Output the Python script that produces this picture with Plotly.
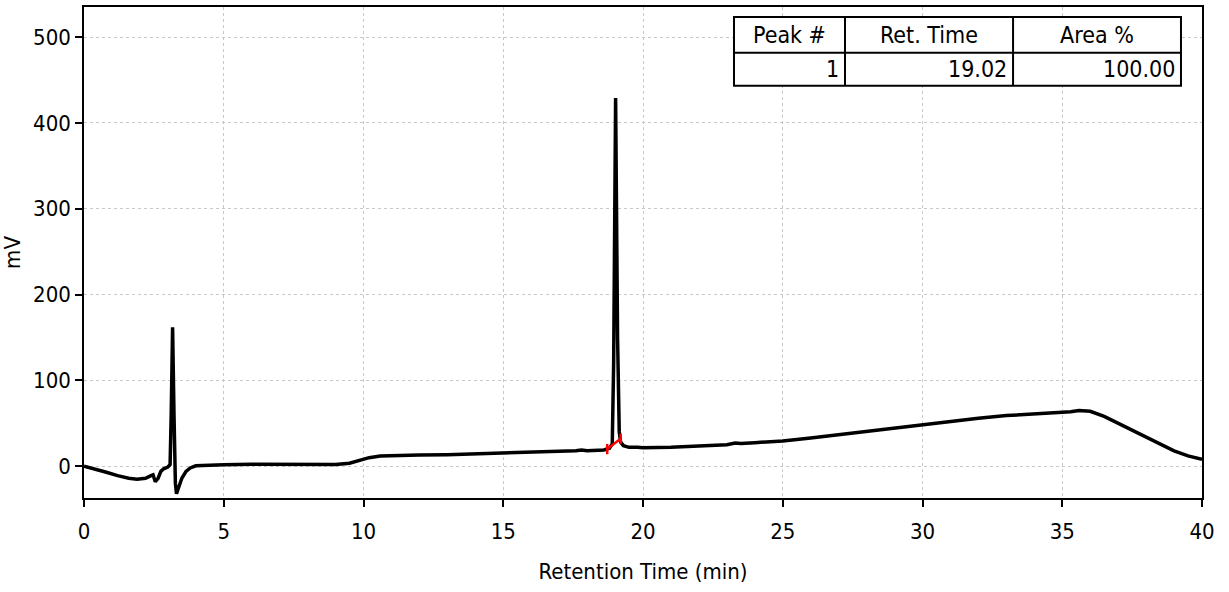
import plotly.graph_objects as go

# ---- data ----
time_min = [0.0, 0.4, 0.8, 1.2, 1.6, 1.9, 2.2, 2.4, 2.47, 2.55, 2.65, 2.75, 2.85, 3.0,
            3.08, 3.12, 3.17, 3.22, 3.27, 3.31, 3.38, 3.5, 3.65, 3.8, 4.0, 4.5, 5.0, 6.0,
            7.0, 8.0, 9.0, 9.5, 9.8, 10.2, 10.6, 11.0, 12.0, 13.0, 14.0, 15.0, 16.0, 17.0,
            17.6, 17.8, 18.0, 18.6, 18.8, 18.9, 18.95, 19.02, 19.09, 19.15, 19.2, 19.3,
            19.5, 19.8, 20.0, 21.0, 22.0, 23.0, 23.3, 23.5, 24.0, 25.0, 26.0, 27.0, 28.0,
            29.0, 30.0, 31.0, 32.0, 33.0, 34.0, 35.0, 35.3, 35.6, 36.0, 36.5, 37.0, 37.5,
            38.0, 38.5, 39.0, 39.5, 40.0]
signal_mv = [0, -3, -7, -11, -14, -15, -14, -11, -10, -18, -14, -6, -3, -1,
             2, 60, 162, 60, -20, -32, -25, -14, -6, -2, 0.5, 1.5, 1.8, 2.2,
             1.8, 1.8, 2, 3.5, 6, 10, 12, 12.5, 13, 13.5, 14.5, 15, 16, 17,
             18, 19, 18, 19, 21, 26, 120, 429, 150, 40, 28, 24,
             22, 22, 21.5, 22, 23, 25, 27, 26.5, 27.5, 29.5, 33, 37, 41,
             45, 49, 53, 56, 59, 61, 62, 63.5, 65, 64, 58, 50, 41,
             33, 25, 18, 12, 8]

# integration baseline of peak 1 (start, end) and its end markers
baseline_t = [18.72, 19.2]
baseline_mv = [20, 32]
marker_half = 6

# peak table
table_header = ["Peak #", "Ret. Time", "Area %"]
table_row = ["1", "19.02", "100.00"]

x_range = [0, 40]
y_range = [-37, 535]
x_ticks = [0, 5, 10, 15, 20, 25, 30, 35, 40]
y_ticks = [0, 100, 200, 300, 400, 500]

FONT = "DejaVu Sans Condensed, Liberation Sans Narrow, DejaVu Sans, sans-serif"

fig = go.Figure()
fig.add_trace(go.Scatter(x=time_min, y=signal_mv, mode="lines",
                         line=dict(color="black", width=3.5), hoverinfo="x+y",
                         showlegend=False))

rx, ry = [], []
for t, v in zip(baseline_t, baseline_mv):
    rx += [t, t, None]
    ry += [v - marker_half, v + marker_half, None]
rx += baseline_t
ry += baseline_mv
fig.add_trace(go.Scatter(x=rx, y=ry, mode="lines",
                         line=dict(color="#ff0000", width=2.5), showlegend=False))

# table geometry (paper coords)
col_edges = [0.5814, 0.6807, 0.8310, 0.9812]
row_edges = [0.9797, 0.9067, 0.8398]
shapes = [dict(type="rect", xref="paper", yref="paper",
               x0=col_edges[0], x1=col_edges[-1], y0=row_edges[-1], y1=row_edges[0],
               fillcolor="white", line=dict(color="black", width=2), layer="above")]
for c in col_edges[1:-1]:
    shapes.append(dict(type="line", xref="paper", yref="paper", x0=c, x1=c,
                       y0=row_edges[-1], y1=row_edges[0],
                       line=dict(color="black", width=2), layer="above"))
shapes.append(dict(type="line", xref="paper", yref="paper", x0=col_edges[0],
                   x1=col_edges[-1], y0=row_edges[1], y1=row_edges[1],
                   line=dict(color="black", width=2), layer="above"))

annotations = []
for i, h in enumerate(table_header):
    annotations.append(dict(xref="paper", yref="paper",
                            x=(col_edges[i] + col_edges[i + 1]) / 2,
                            y=(row_edges[0] + row_edges[1]) / 2, text=h,
                            showarrow=False, xanchor="center", yanchor="middle",
                            font=dict(family=FONT, size=23, color="black")))
for i, v in enumerate(table_row):
    annotations.append(dict(xref="paper", yref="paper",
                            x=col_edges[i + 1] - 0.004,
                            y=(row_edges[1] + row_edges[2]) / 2, text=v,
                            showarrow=False, xanchor="right", yanchor="middle",
                            font=dict(family=FONT, size=23, color="black")))

fig.update_layout(
    width=1229, height=592,
    margin=dict(l=84, r=27, t=5, b=94),
    paper_bgcolor="white", plot_bgcolor="white",
    font=dict(family=FONT, size=22, color="black"),
    shapes=shapes, annotations=annotations,
    xaxis=dict(range=x_range, tickvals=x_ticks, showgrid=True,
               gridcolor="#c8c8c8", griddash="dot", gridwidth=1,
               showline=True, linecolor="black", linewidth=1.5, mirror=True,
               ticks="outside", ticklen=7, tickwidth=2, tickcolor="black",
               ticklabelstandoff=6, zeroline=False,
               title=dict(text="Retention Time (min)", font=dict(size=22), standoff=20)),
    yaxis=dict(range=y_range, tickvals=y_ticks, showgrid=True,
               gridcolor="#c8c8c8", griddash="dot", gridwidth=1,
               showline=True, linecolor="black", linewidth=1.5, mirror=True,
               ticks="outside", ticklen=7, tickwidth=2, tickcolor="black",
               zeroline=False,
               title=dict(text="mV", font=dict(size=22), standoff=10)),
)

fig.write_html("out.html")
